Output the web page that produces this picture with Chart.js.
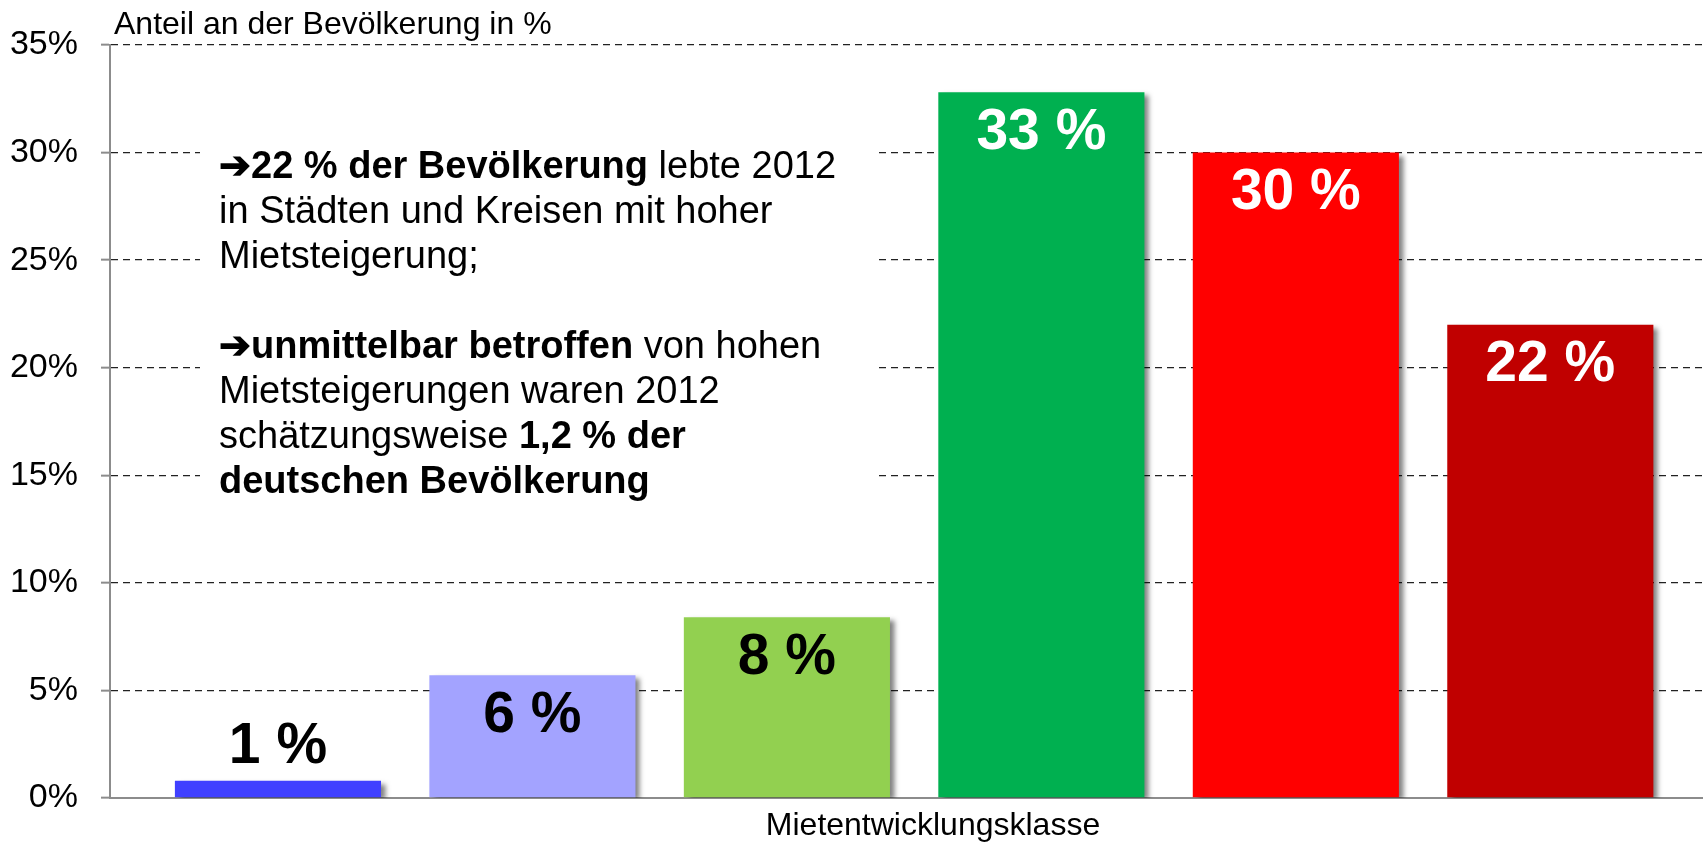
<!DOCTYPE html>
<html>
<head>
<meta charset="utf-8">
<script src="https://cdn.jsdelivr.net/npm/chart.js@4.4.1/dist/chart.umd.min.js"></script>
<style>
  html, body { margin: 0; padding: 0; background: #fff; }
  #wrap { width: 1703px; height: 842px; }
</style>
</head>
<body>
<div id="wrap"><canvas id="chart" width="1703" height="842"></canvas></div>
<script>
// Mietentwicklungsklassen 1..6
const categories = [1, 2, 3, 4, 5, 6];
const shares = [0.8, 5.7, 8.4, 32.8, 30.0, 22.0];
const shareLabels = ['1 %', '6 %', '8 %', '33 %', '30 %', '22 %'];
const barColors = ['#4040FF', '#A3A3FF', '#92D050', '#00B050', '#FF0000', '#C00000'];
const labelColors = ['#000000', '#000000', '#000000', '#FFFFFF', '#FFFFFF', '#FFFFFF'];

const yTitle = 'Anteil an der Bevölkerung in %';
const xTitle = 'Mietentwicklungsklasse';

// text of the note, as [text, bold] pieces per line
const noteLines = [
    [['➔22 % der Bevölkerung', true], [' lebte 2012', false]],
    [['in Städten und Kreisen mit hoher', false]],
    [['Mietsteigerung;', false]],
    [],
    [['➔unmittelbar betroffen', true], [' von hohen', false]],
    [['Mietsteigerungen waren 2012', false]],
    [['schätzungsweise ', false], ['1,2 % der', true]],
    [['deutschen Bevölkerung', true]]
];

const FONT = '"Liberation Sans", Arial, sans-serif';

const notePlugin = {
    id: 'note',
    beforeDatasetsDraw(chart) {
        const ctx = chart.ctx;
        ctx.save();
        ctx.fillStyle = '#fff';
        ctx.fillRect(200, 100, 678, 420);
        ctx.fillStyle = '#000';
        ctx.textBaseline = 'middle';
        ctx.textAlign = 'left';
        noteLines.forEach((line, i) => {
            let x = 219;
            const y = 168 + i * 45;
            line.forEach(([txt, bold]) => {
                ctx.font = (bold ? 'bold ' : '') + '38px ' + FONT;
                ctx.fillText(txt, x, y);
                x += ctx.measureText(txt).width;
            });
        });
        ctx.restore();

        // soft shadow under the bars
        ctx.save();
        ctx.shadowColor = 'rgba(0, 0, 0, 0.5)';
        ctx.shadowBlur = 5;
        ctx.shadowOffsetX = 5;
        ctx.shadowOffsetY = 3;
    },
    afterDatasetsDraw(chart) {
        const ctx = chart.ctx;
        ctx.restore();

        ctx.save();
        ctx.textAlign = 'center';
        ctx.textBaseline = 'middle';
        ctx.font = 'bold 57px ' + FONT;
        const meta = chart.getDatasetMeta(0);
        meta.data.forEach((bar, i) => {
            const y = shares[i] < 3 ? bar.y - 34 : bar.y + 41;
            ctx.fillStyle = labelColors[i];
            ctx.fillText(shareLabels[i], bar.x, y);
        });

        ctx.fillStyle = '#000';
        ctx.font = '32px ' + FONT;
        ctx.textAlign = 'left';
        ctx.fillText(yTitle, 114, 25);
        ctx.textAlign = 'center';
        ctx.fillText(xTitle, 933, 826);
        ctx.restore();
    }
};

const ctx = document.getElementById('chart').getContext('2d');
new Chart(ctx, {
    type: 'bar',
    data: {
        datasets: [{
            data: categories.map((c, i) => ({ x: c, y: shares[i] })),
            backgroundColor: barColors,
            borderWidth: 0,
            barPercentage: 0.81,
            categoryPercentage: 1.0
        }]
    },
    options: {
        responsive: false,
        animation: false,
        devicePixelRatio: 1,
        layout: { padding: { top: 45, left: 0, right: 0, bottom: 0 } },
        plugins: {
            legend: { display: false },
            tooltip: { enabled: false }
        },
        scales: {
            x: {
                type: 'linear',
                offset: false,
                min: 0.34,
                max: 6.6,
                ticks: { display: false },
                afterBuildTicks(scale) {
                    scale.ticks = categories.map(v => ({ value: v }));
                },
                grid: { display: false, offset: false },
                border: { display: true, color: '#8c8c8c', width: 2 },
                afterFit(scale) { scale.height = 44; }
            },
            y: {
                min: 0,
                max: 35,
                ticks: {
                    stepSize: 5,
                    padding: 23,
                    color: '#000',
                    font: { family: FONT, size: 34 },
                    callback: v => v + '%'
                },
                grid: {
                    color: c => c.tick.value === 0 ? 'rgba(0,0,0,0)' : '#222',
                    lineWidth: 1.3,
                    tickLength: 9,
                    tickColor: '#8c8c8c',
                    tickWidth: 2,
                    tickBorderDash: []
                },
                border: { display: true, color: '#8c8c8c', width: 2, dash: [7, 5] },
                afterFit(scale) { scale.width = 110; }
            }
        }
    },
    plugins: [notePlugin]
});
</script>
</body>
</html>
